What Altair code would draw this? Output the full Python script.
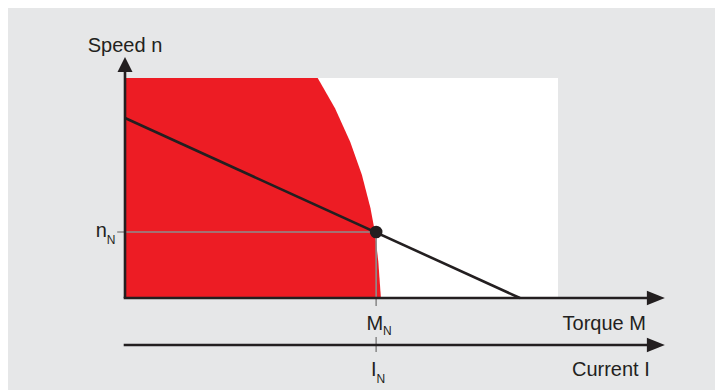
import altair as alt
import pandas as pd

# ---- data ----
curve_torque = [0.0, 4.45, 4.85, 5.20, 5.47, 5.67, 5.77, 5.85, 5.91]
curve_speed = [5.0, 5.0, 4.31, 3.55, 2.80, 2.04, 1.51, 0.83, 0.0]

load_torque = [0.0, 9.12]
load_speed = [4.09, 0.0]

rated_torque = 5.80
rated_speed = 1.50

axis_end = 12.12        # end of horizontal axis lines (arrow base)
arrow_x = 12.26         # centre of right arrow heads
y_axis_end = 5.18
arrow_y = 5.307
current_axis = -1.068   # level of the "Current I" axis

RED = "#ed1c24"
INK = "#231f20"
GRID = "#8c8c8c"
BG = "#e6e7e8"
FONT = "Liberation Sans"

xs = alt.Scale(domain=[0, 10], nice=False, zero=False)
ys = alt.Scale(domain=[0, 5], nice=False, zero=False)


def X(f="x"):
    return alt.X(f"{f}:Q", scale=xs, axis=None)


def Y(f="y"):
    return alt.Y(f"{f}:Q", scale=ys, axis=None, stack=None)


area_df = pd.DataFrame({"x": curve_torque, "y": curve_speed})
area = alt.Chart(area_df).mark_area(color=RED, opacity=1).encode(
    x=X(), y=Y(), y2=alt.datum(0)
)

line_df = pd.DataFrame({"x": load_torque, "y": load_speed})
load_line = alt.Chart(line_df).mark_line(color=INK, strokeWidth=2.6).encode(x=X(), y=Y())

# guide lines (grey)
guides_df = pd.DataFrame({
    "x": [-0.18, rated_torque, rated_torque],
    "x2": [rated_torque, rated_torque, rated_torque],
    "y": [rated_speed, rated_speed, -0.886],
    "y2": [rated_speed, -0.18, -1.227],
})
guides = alt.Chart(guides_df).mark_rule(color=GRID, strokeWidth=1.6, clip=False).encode(
    x=X(), x2="x2:Q", y=Y(), y2="y2:Q"
)

# axes (black)
axes_df = pd.DataFrame({
    "x": [0.0, -0.03, -0.03],
    "x2": [0.0, axis_end, axis_end],
    "y": [0.0, 0.0, current_axis],
    "y2": [y_axis_end, 0.0, current_axis],
})
axes = alt.Chart(axes_df).mark_rule(color=INK, strokeWidth=2.6, clip=False).encode(
    x=X(), x2="x2:Q", y=Y(), y2="y2:Q"
)

up_df = pd.DataFrame({"x": [0.0], "y": [arrow_y]})
up_arrow = alt.Chart(up_df).mark_point(
    shape="M-1,1L1,1L0,-1Z", size=225, filled=True, color=INK, opacity=1, clip=False
).encode(x=X(), y=Y())

right_df = pd.DataFrame({"x": [arrow_x, arrow_x], "y": [0.0, current_axis]})
right_arrow = alt.Chart(right_df).mark_point(
    shape="M-1,-0.8L1,0L-1,0.8Z", size=324, filled=True, color=INK, opacity=1, clip=False
).encode(x=X(), y=Y())

pt_df = pd.DataFrame({"x": [rated_torque], "y": [rated_speed]})
point = alt.Chart(pt_df).mark_circle(size=160, color=INK, opacity=1).encode(x=X(), y=Y())

# labels
big_df = pd.DataFrame({
    "x": [0.0, 12.03, 12.12, 5.96, 5.81, -0.42],
    "y": [5.59, -0.716, -1.784, -0.716, -1.784, 1.39],
    "t": ["Speed n", "Torque M", "Current I", "M", "I", "n"],
    "a": ["center", "right", "right", "right", "right", "right"],
})
big_parts = []
for al in ["center", "right"]:
    big_parts.append(
        alt.Chart(big_df[big_df.a == al]).mark_text(
            font=FONT, fontSize=20, color=INK, align=al, baseline="alphabetic", clip=False
        ).encode(x=X(), y=Y(), text="t:N")
    )

sub_df = pd.DataFrame({
    "x": [5.96, 5.81, -0.42],
    "y": [-0.83, -1.94, 1.22],
    "t": ["N", "N", "N"],
})
subs = alt.Chart(sub_df).mark_text(
    font=FONT, fontSize=12, color=INK, align="left", baseline="alphabetic", clip=False
).encode(x=X(), y=Y(), text="t:N")

chart = alt.layer(
    area, guides, load_line, point, axes, up_arrow, right_arrow, *big_parts, subs
).properties(
    width=433, height=220,
    autosize=alt.AutoSizeParams(type="none"),
    padding={"left": 117, "top": 70, "right": 157, "bottom": 92},
    background=BG,
).configure_view(fill="white", stroke=None)

chart.save("out.html", embed_options={"renderer": "svg", "actions": False})
